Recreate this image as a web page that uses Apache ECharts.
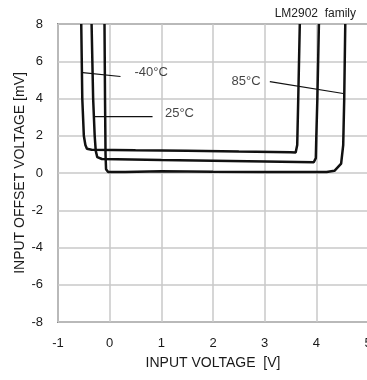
<!DOCTYPE html>
<html>
<head>
<meta charset="utf-8">
<script src="https://cdn.jsdelivr.net/npm/echarts@6/dist/echarts.min.js"></script>
<style>html,body{margin:0;padding:0;background:#fff;}#c{width:367px;height:380px;}</style>
</head>
<body>
<div id="c"></div>
<script>
// Curve data: [input voltage V, offset voltage mV]
const curveM40 = [[-0.55,8],[-0.53,4],[-0.50,2],[-0.47,1.5],[-0.44,1.3],[-0.35,1.25],[0.5,1.22],[1.5,1.2],[2.5,1.15],[3.5,1.12],[3.6,1.1],[3.63,1.5],[3.65,4],[3.68,8]];
const curve25 = [[-0.35,8],[-0.32,4],[-0.29,2],[-0.27,1.2],[-0.24,0.85],[-0.15,0.75],[1,0.7],[2,0.66],[3,0.62],[3.95,0.58],[3.99,0.8],[4.0,2],[4.02,4],[4.05,8]];
const curve85 = [[-0.1,8],[-0.09,4],[-0.08,1],[-0.07,0.2],[-0.03,0.05],[0.3,0.05],[1,0.1],[2,0.07],[3,0.05],[4.2,0.05],[4.35,0.12],[4.48,0.5],[4.52,1.5],[4.54,4],[4.56,8]];
// Annotation leaders and labels (data coordinates)
const leaderM40 = [[-0.52,5.39],[0.21,5.18]];
const leader25 = [[-0.29,3.03],[0.83,3.03]];
const leader85 = [[3.10,4.91],[4.52,4.27]];
const labels = [
  {text:'-40°C', x:0.48, y:5.4},
  {text:'25°C', x:1.07, y:3.2},
  {text:'85°C', x:2.36, y:4.9}
];
const xTicks = [-1,0,1,2,3,4,5];
const yTicks = [-8,-6,-4,-2,0,2,4,6,8];

const chart = echarts.init(document.getElementById('c'));
const font = 'Liberation Sans, Arial, sans-serif';
function curve(d){return {type:'line',data:d,showSymbol:false,smooth:false,silent:true,
  lineStyle:{color:'#111',width:2.5},z:3};}
function leader(d){return {type:'line',data:d,showSymbol:false,silent:true,
  lineStyle:{color:'#111',width:1.2},z:4};}
chart.setOption({
  animation:false,
  title:{text:'LM2902  family',right:6,top:3,textStyle:{fontFamily:font,fontSize:12,fontWeight:'normal',color:'#222'}},
  grid:{left:58,top:24,width:310,height:298,show:true,borderColor:'#8a8a8a',borderWidth:2,
    containLabel:false,outerBoundsMode:'none'},
  xAxis:{type:'value',min:xTicks[0],max:xTicks[xTicks.length-1],interval:1,
    name:'INPUT VOLTAGE  [V]',nameLocation:'middle',nameGap:34,nameMoveOverlap:false,
    nameTextStyle:{fontFamily:font,fontSize:14,color:'#1a1a1a'},
    axisLine:{show:false},axisTick:{show:false},
    axisLabel:{fontFamily:font,fontSize:13,color:'#1a1a1a',margin:15},
    splitLine:{lineStyle:{color:'#c8c8c8',width:1.5}}},
  yAxis:{type:'value',min:yTicks[0],max:yTicks[yTicks.length-1],interval:2,
    name:'INPUT OFFSET VOLTAGE [mV]',nameLocation:'middle',nameGap:31,nameMoveOverlap:false,
    nameTextStyle:{fontFamily:font,fontSize:14,color:'#1a1a1a'},
    axisLine:{show:false},axisTick:{show:false},
    axisLabel:{fontFamily:font,fontSize:13,color:'#1a1a1a',margin:15},
    splitLine:{lineStyle:{color:'#c8c8c8',width:1.5}}},
  series:[
    curve(curveM40),curve(curve25),curve(curve85),
    leader(leaderM40),leader(leader25),leader(leader85),
    {type:'scatter',data:labels.map(l=>({value:[l.x,l.y],name:l.text})),symbolSize:0,silent:true,
      label:{show:true,position:'right',distance:0,formatter:p=>p.name,fontFamily:font,fontSize:13,color:'#111'}}
  ]
});
</script>
</body>
</html>
